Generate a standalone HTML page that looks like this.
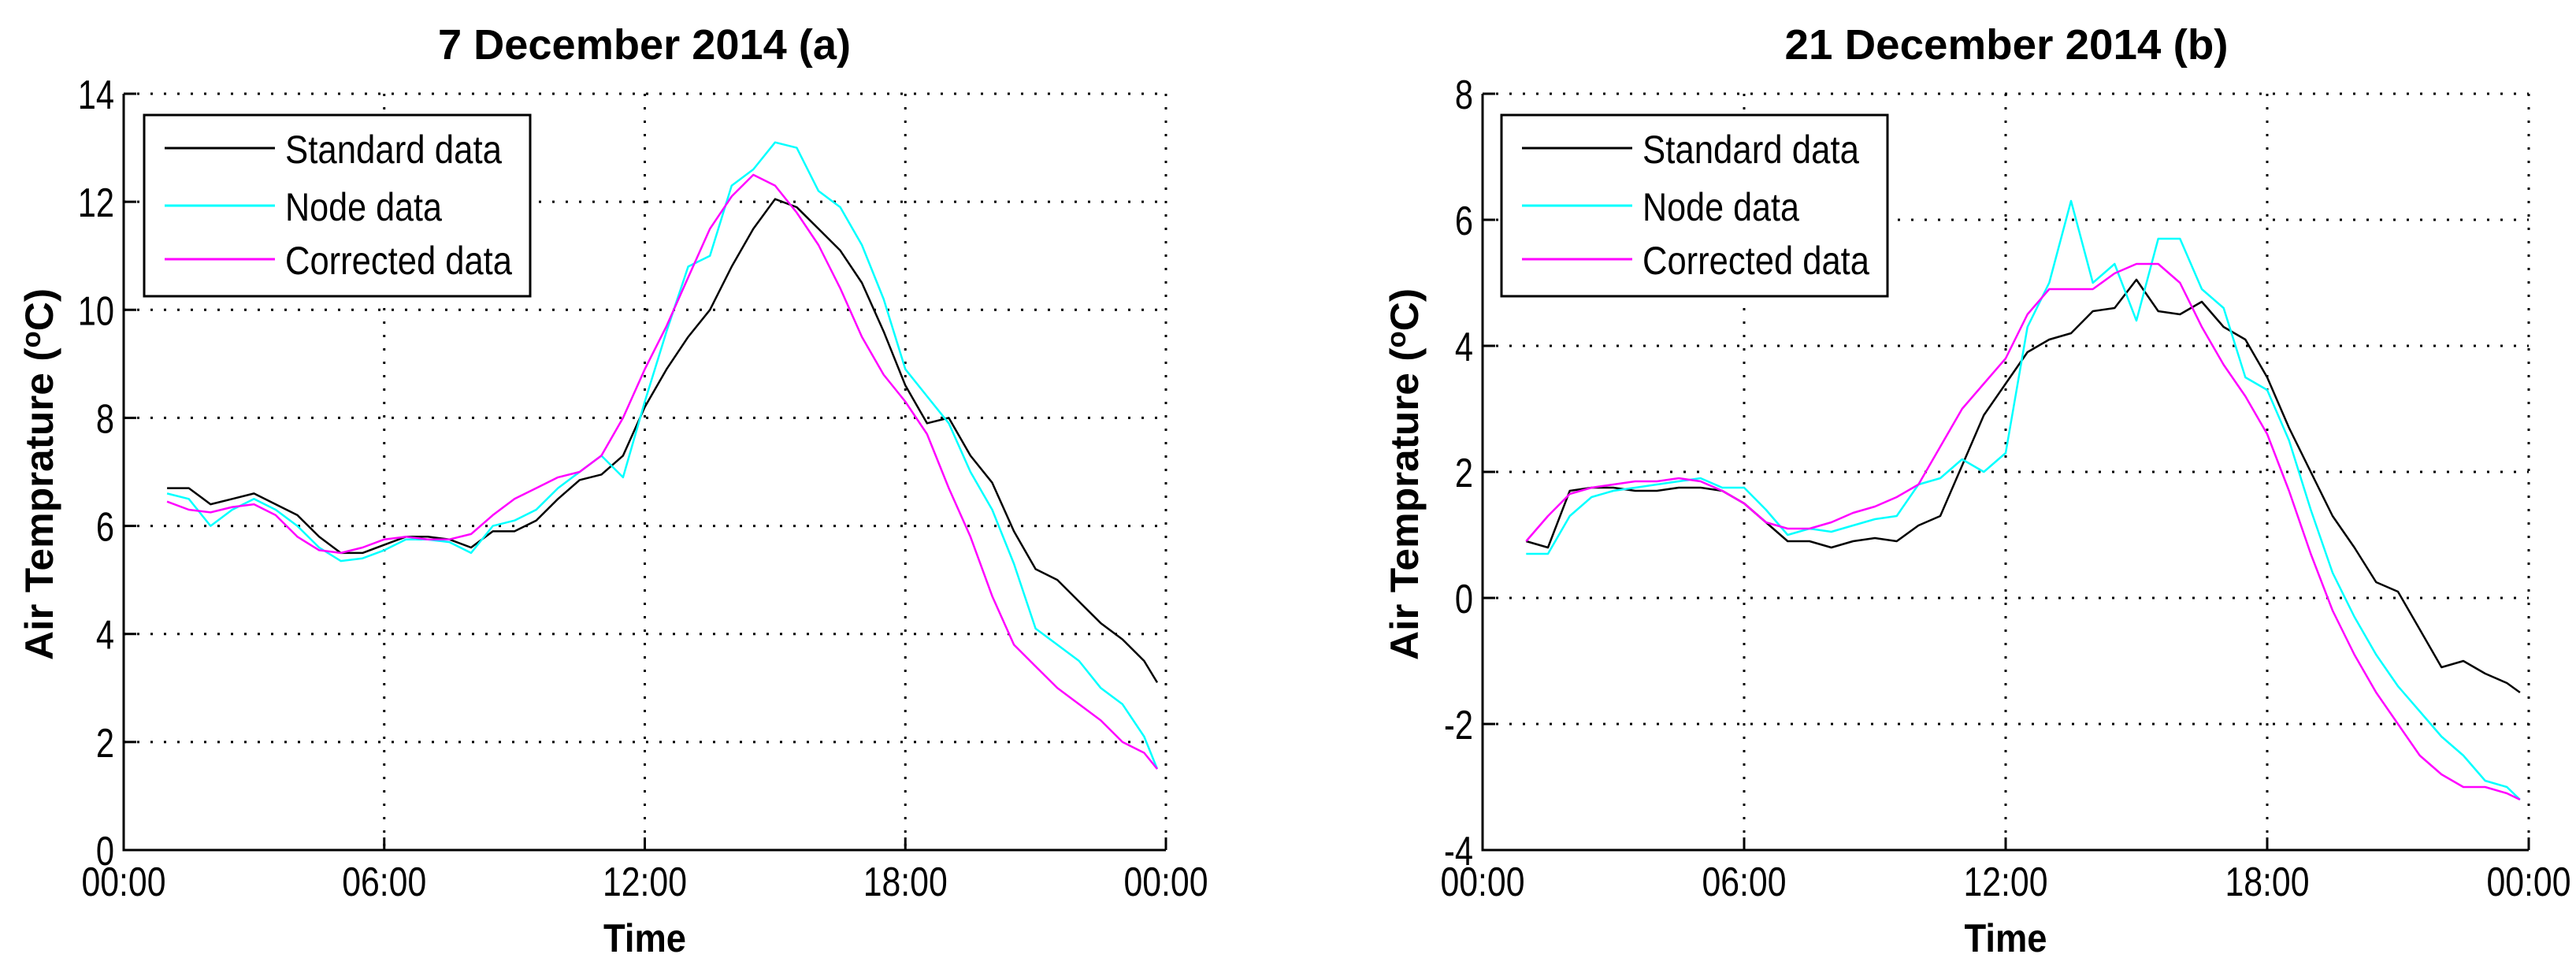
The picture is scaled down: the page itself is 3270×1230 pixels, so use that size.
<!DOCTYPE html>
<html><head><meta charset="utf-8"><style>
html,body{margin:0;padding:0;background:#fff;}
svg{display:block;}
text{font-family:"Liberation Sans",sans-serif;fill:#000;}
</style></head><body>
<svg id="fig" width="3270" height="1230" viewBox="0 0 3270 1230" xmlns="http://www.w3.org/2000/svg"></svg>
<script>
const times = [1.0,1.5,2.0,2.5,3.0,3.5,4.0,4.5,5.0,5.5,6.0,6.5,7.0,7.5,8.0,8.5,9.0,9.5,10.0,10.5,11.0,11.5,12.0,12.5,13.0,13.5,14.0,14.5,15.0,15.5,16.0,16.5,17.0,17.5,18.0,18.5,19.0,19.5,20.0,20.5,21.0,21.5,22.0,22.5,23.0,23.5,23.8];
const aStandard = [6.7,6.7,6.4,6.5,6.6,6.4,6.2,5.8,5.5,5.5,5.65,5.8,5.8,5.75,5.6,5.9,5.9,6.1,6.5,6.85,6.95,7.3,8.2,8.9,9.5,10.0,10.8,11.5,12.05,11.9,11.5,11.1,10.5,9.6,8.6,7.9,8.0,7.3,6.8,5.9,5.2,5.0,4.6,4.2,3.9,3.5,3.1];
const aNode = [6.6,6.5,6.0,6.3,6.5,6.3,6.0,5.6,5.35,5.4,5.55,5.75,5.75,5.7,5.5,6.0,6.1,6.3,6.7,7.0,7.3,6.9,8.3,9.6,10.8,11.0,12.3,12.6,13.1,13.0,12.2,11.9,11.2,10.2,8.9,8.4,7.9,7.0,6.3,5.3,4.1,3.8,3.5,3.0,2.7,2.1,1.5];
const aCorrected = [6.45,6.3,6.25,6.35,6.4,6.2,5.8,5.55,5.5,5.6,5.75,5.8,5.75,5.75,5.85,6.2,6.5,6.7,6.9,7.0,7.3,8.0,8.9,9.7,10.6,11.5,12.1,12.5,12.3,11.8,11.2,10.4,9.5,8.8,8.3,7.7,6.7,5.8,4.7,3.8,3.4,3.0,2.7,2.4,2.0,1.8,1.5];
const bStandard = [0.9,0.8,1.7,1.75,1.75,1.7,1.7,1.75,1.75,1.7,1.5,1.2,0.9,0.9,0.8,0.9,0.95,0.9,1.15,1.3,2.1,2.9,3.4,3.9,4.1,4.2,4.55,4.6,5.05,4.55,4.5,4.7,4.3,4.1,3.5,2.7,2.0,1.3,0.8,0.25,0.1,-0.5,-1.1,-1.0,-1.2,-1.35,-1.5];
const bNode = [0.7,0.7,1.3,1.6,1.7,1.75,1.8,1.85,1.9,1.75,1.75,1.4,1.0,1.1,1.05,1.15,1.25,1.3,1.8,1.9,2.2,2.0,2.3,4.3,5.0,6.3,5.0,5.3,4.4,5.7,5.7,4.9,4.6,3.5,3.3,2.5,1.4,0.4,-0.3,-0.9,-1.4,-1.8,-2.2,-2.5,-2.9,-3.0,-3.2];
const bCorrected = [0.9,1.3,1.65,1.75,1.8,1.85,1.85,1.9,1.85,1.7,1.5,1.2,1.1,1.1,1.2,1.35,1.45,1.6,1.8,2.4,3.0,3.4,3.8,4.5,4.9,4.9,4.9,5.15,5.3,5.3,5.0,4.3,3.7,3.2,2.6,1.7,0.7,-0.2,-0.9,-1.5,-2.0,-2.5,-2.8,-3.0,-3.0,-3.1,-3.2];
const xTicks = [0,6,12,18,24];
const xTickLabels = ["00:00","06:00","12:00","18:00","00:00"];
const aYTicks = [0,2,4,6,8,10,12,14];
const bYTicks = [-4,-2,0,2,4,6,8];

const NS = "http://www.w3.org/2000/svg";
const svg = document.getElementById('fig');
function mk(tag, attrs, parent){ const e=document.createElementNS(NS,tag); for(const k in attrs) e.setAttribute(k,attrs[k]); (parent||svg).appendChild(e); return e; }

function panel(cfg){
  const g = mk('g',{});
  
  
  const L=cfg.left,R=cfg.right,T=119,B=1079;
  const sx = h => L + (h/24)*(R-L);
  const sy = v => B - (v-cfg.ymin)/(cfg.ymax-cfg.ymin)*(B-T);
  // grid
  cfg.yTicks.forEach(v=>{
    if(v===cfg.ymin) return;
    const l=mk('line',{x1:L,x2:R,y1:sy(v),y2:sy(v),stroke:'#000','stroke-width':3,'stroke-dasharray':'3 14'},g);
    
    
  });
  xTicks.forEach(h=>{
    if(h===0) return;
    const l=mk('line',{x1:sx(h),x2:sx(h),y1:T,y2:B,stroke:'#000','stroke-width':3,'stroke-dasharray':'3 14'},g);
    
    
  });
  // tick marks
  cfg.yTicks.forEach(v=>{ mk('line',{x1:L,x2:L+16,y1:sy(v),y2:sy(v),stroke:'#000','stroke-width':3},g); });
  xTicks.forEach(h=>{ mk('line',{x1:sx(h),x2:sx(h),y1:B,y2:B-16,stroke:'#000','stroke-width':3},g); });
  // axes
  const ax=mk('path',{d:`M${L},${T} L${L},${B} L${R},${B}`,fill:'none',stroke:'#000','stroke-width':3},g);
  
  
  // tick labels
  cfg.yTicks.forEach(v=>{
    const t=mk('text',{x:L-12,y:sy(v)+19,'font-size':52,'text-anchor':'end',transform:`translate(${L-12},0) scale(0.8,1) translate(${-(L-12)},0)`},g);
    t.textContent=String(v);
    
    
  });
  xTicks.forEach((h,i)=>{
    const t=mk('text',{x:sx(h),y:1137,'font-size':52,'text-anchor':'middle',textLength:107,lengthAdjust:'spacingAndGlyphs'},g);
    t.textContent=xTickLabels[i];
    
    
  });
  // series
  const series=[[cfg.std,'#000','standard-data-line'],[cfg.node,'#00ffff','node-data-line'],[cfg.corr,'#ff00ff','corrected-data-line']];
  series.forEach(s=>{
    const d=times.map((h,i)=>(i?'L':'M')+sx(h).toFixed(1)+','+sy(s[0][i]).toFixed(1)).join(' ');
    const p=mk('path',{d:d,fill:'none',stroke:s[1],'stroke-width':2.5,'stroke-linejoin':'round'},g);
    
    
  });
  // legend
  const lx=cfg.legLeft, lr=cfg.legRight;
  const lg=mk('g',{},g);
  
  
  mk('rect',{x:lx,y:146,width:lr-lx,height:230,fill:'#fff',stroke:'#000','stroke-width':3},lg);
  const names=['Standard data','Node data','Corrected data'];
  const widths=[275,199,288];
  const rows=[188,261,329];
  series.forEach((s,i)=>{
    const e=mk('g',{},lg);
    
    
    mk('line',{x1:lx+26,x2:lx+166,y1:rows[i],y2:rows[i],stroke:s[1],'stroke-width':3},e);
    const t=mk('text',{x:lx+179,y:rows[i]+19,'font-size':50,textLength:widths[i],lengthAdjust:'spacingAndGlyphs'},e);
    t.textContent=names[i];
  });
  // titles
  const ti=mk('text',{x:cfg.titleX,y:75,'font-size':54,'font-weight':'bold','text-anchor':'middle',textLength:cfg.titleW,lengthAdjust:'spacingAndGlyphs'},g);
  ti.textContent=cfg.title;
  
  
  const xt=mk('text',{x:(L+R)/2,y:1208,'font-size':50,'font-weight':'bold','text-anchor':'middle',textLength:105,lengthAdjust:'spacingAndGlyphs'},g);
  xt.textContent='Time';
  
  
  const yt=mk('text',{x:0,y:0,'font-size':50,'font-weight':'bold','text-anchor':'middle',textLength:472,lengthAdjust:'spacingAndGlyphs',transform:`translate(${cfg.ylabX},602) rotate(-90)`},g);
  yt.innerHTML='Air Temprature (<tspan font-size="34" dy="-16">o</tspan><tspan dy="16">C)</tspan>';
  
  
}
panel({id:'dec-7',left:157,right:1480,ymin:0,ymax:14,yTicks:aYTicks,std:aStandard,node:aNode,corr:aCorrected,legLeft:183,legRight:673,title:'7 December 2014 (a)',titleX:818,titleW:524,ylabX:67});
panel({id:'dec-21',left:1882,right:3210,ymin:-4,ymax:8,yTicks:bYTicks,std:bStandard,node:bNode,corr:bCorrected,legLeft:1906,legRight:2396,title:'21 December 2014 (b)',titleX:2547,titleW:563,ylabX:1800});
</script>
</body></html>
